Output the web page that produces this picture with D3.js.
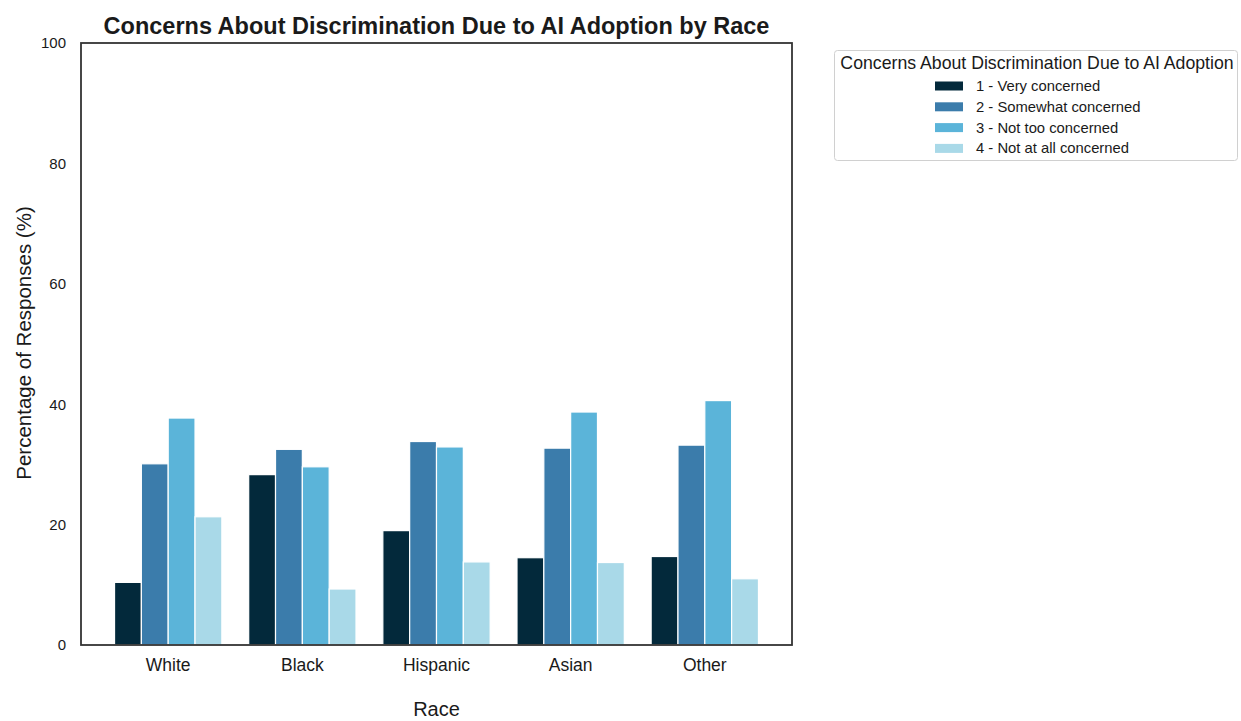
<!DOCTYPE html>
<html><head><meta charset="utf-8">
<script src="https://cdn.jsdelivr.net/npm/d3@7"></script>
<style>body{margin:0;background:#fff;} text{font-family:"Liberation Sans",Arial,sans-serif;}</style>
</head><body><svg id="c" width="1241" height="721"></svg>
<script>
const races = ["White","Black","Hispanic","Asian","Other"];
const levels = ["1 - Very concerned","2 - Somewhat concerned","3 - Not too concerned","4 - Not at all concerned"];
const veryConcerned     = [10.4, 28.3, 19.0, 14.5, 14.7];
const somewhatConcerned = [30.1, 32.5, 33.8, 32.7, 33.2];
const notTooConcerned   = [37.7, 29.6, 32.9, 38.7, 40.6];
const notAtAllConcerned = [21.3, 9.3, 13.8, 13.7, 11.0];
const yTicks = [0,20,40,60,80,100];
const colors = ["#03293b","#3b7cab","#5bb4d9","#a9d9e8"];

const series = [veryConcerned, somewhatConcerned, notTooConcerned, notAtAllConcerned];
const svg = d3.select("#c");
const L=81, R=792, T=43, B=645;
const x = d3.scaleBand().domain(races).range([L,R]).paddingInner(0).paddingOuter(0.15);
const xi = d3.scaleBand().domain(levels).range([0, x.bandwidth()*0.8]);
const y = d3.scaleLinear().domain([0,100]).range([B,T]);

const g = svg.append("g");
races.forEach((r,i)=>{
  const x0 = x(r) + x.bandwidth()*0.1;
  levels.forEach((lv,j)=>{
    const v = series[j][i];
    g.append("rect").attr("x", x0+xi(lv)).attr("y", y(v))
     .attr("width", xi.bandwidth()).attr("height", y(0)-y(v))
     .attr("fill", colors[j]).attr("stroke","#fff").attr("stroke-width",1.2);
  });
});

// axes
const ya = svg.append("g").attr("transform",`translate(${L},0)`)
  .call(d3.axisLeft(y).tickValues(yTicks).tickSize(0).tickPadding(15));
ya.select(".domain").remove();
ya.selectAll("text").attr("font-size",15).attr("fill","#1a1a1a").style("font-family","'Liberation Sans',Arial,sans-serif");
const xa = svg.append("g").attr("transform",`translate(0,${B})`)
  .call(d3.axisBottom(x).tickSize(0).tickPadding(14));
xa.select(".domain").remove();
xa.selectAll("text").attr("font-size",17.5).attr("fill","#1a1a1a").style("font-family","'Liberation Sans',Arial,sans-serif");

svg.append("rect").attr("x",L).attr("y",T).attr("width",R-L).attr("height",B-T)
  .attr("fill","none").attr("stroke","#333").attr("stroke-width",1.8);

svg.append("text").attr("x",(L+R)/2).attr("y",34).attr("text-anchor","middle")
  .attr("font-size",23.5).attr("font-weight","bold").attr("fill","#1a1a1a")
  .text("Concerns About Discrimination Due to AI Adoption by Race");
svg.append("text").attr("x",(L+R)/2).attr("y",716).attr("text-anchor","middle")
  .attr("font-size",20).attr("fill","#1a1a1a").text("Race");
svg.append("text").attr("transform",`translate(31,${(T+B)/2 - 1}) rotate(-90)`).attr("text-anchor","middle")
  .attr("font-size",20.5).attr("fill","#1a1a1a").text("Percentage of Responses (%)");

// legend
const lg = svg.append("g");
lg.append("rect").attr("x",834.5).attr("y",50.5).attr("width",403).attr("height",110)
  .attr("fill","#fff").attr("stroke","#d0d0d0").attr("rx",3);
lg.append("text").attr("x",1037).attr("y",69).attr("text-anchor","middle")
  .attr("font-size",17.7).attr("fill","#1a1a1a").text("Concerns About Discrimination Due to AI Adoption");
levels.forEach((lv,j)=>{
  const cy = 86 + j*20.8;
  lg.append("rect").attr("x",935).attr("y",cy-4.5).attr("width",28).attr("height",9).attr("fill",colors[j]);
  lg.append("text").attr("x",976).attr("y",cy+5).attr("font-size",14.8).attr("fill","#1a1a1a").text(lv);
});
</script></body></html>
